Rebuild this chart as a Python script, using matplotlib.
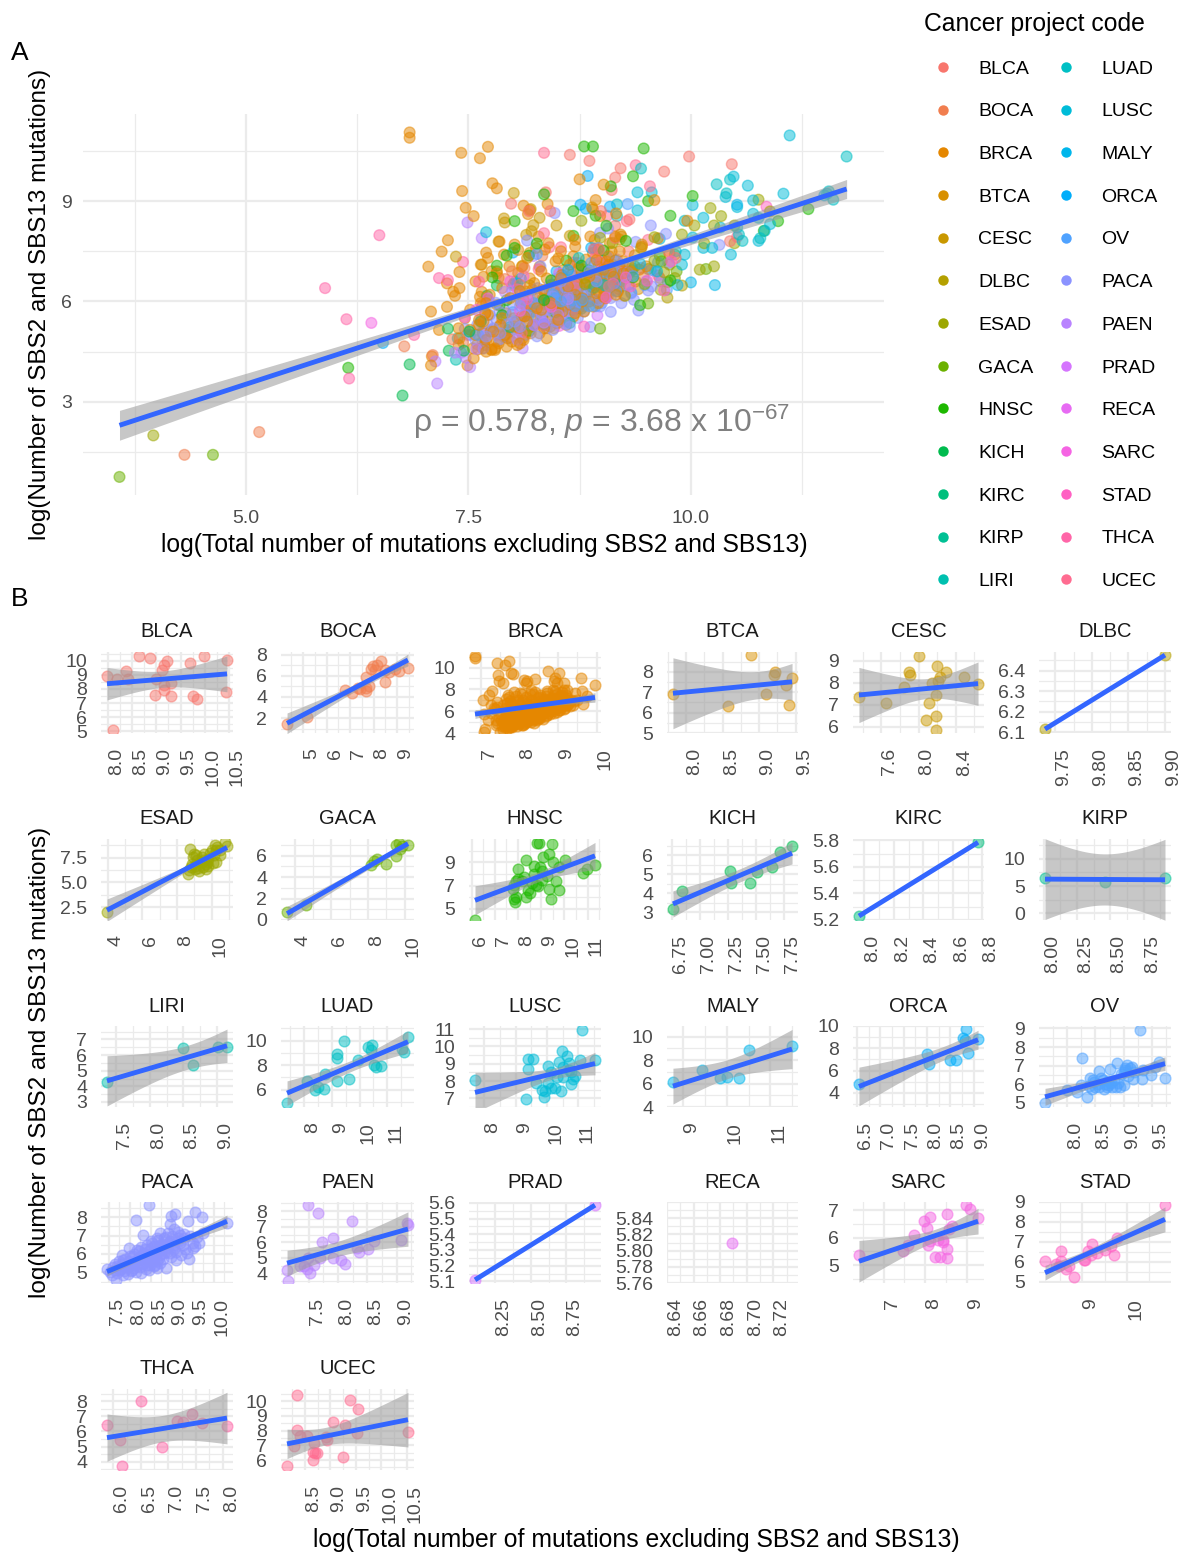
# plot.py - SBS2/SBS13 mutations vs total mutations, all cohorts and per cohort
import numpy as np
import matplotlib
matplotlib.use("Agg")
import matplotlib.pyplot as plt
from matplotlib.lines import Line2D
from matplotlib.ticker import AutoMinorLocator

plt.rcParams["font.family"] = ["Liberation Sans", "DejaVu Sans"]
plt.rcParams["mathtext.fontset"] = "custom"
plt.rcParams["mathtext.rm"] = "Liberation Sans"
plt.rcParams["mathtext.it"] = "Liberation Sans:italic"

# values (log total mutations, log SBS2+SBS13 mutations)
BLCA_x = [7.98, 8.18, 8.37, 8.42, 8.64, 8.86, 8.97, 8.99, 9.11, 9.15, 9.21, 9.15, 9.15, 9.30, 9.31, 9.70, 9.75, 9.83, 9.98, 10.46, 10.44, 8.10]
BLCA_y = [8.92, 8.70, 9.26, 8.70, 10.38, 10.20, 7.55, 8.70, 9.33, 9.70, 9.98, 8.26, 7.90, 7.50, 8.45, 9.88, 7.50, 7.30, 10.33, 10.10, 7.80, 5.05]
BOCA_x = [4.31, 5.15, 6.78, 7.10, 7.32, 7.44, 7.66, 7.66, 7.82, 7.66, 7.91, 7.99, 8.08, 8.13, 8.33, 8.50, 8.50, 8.66, 9.08, 9.47, 8.92]
BOCA_y = [1.42, 2.10, 4.66, 4.40, 4.87, 4.78, 5.90, 4.80, 5.00, 4.60, 6.67, 6.90, 6.50, 7.00, 7.36, 5.40, 6.50, 6.35, 6.45, 6.73, 6.67]
BRCA_x = [6.84, 6.84, 7.42, 7.63, 7.72, 7.43, 7.77, 7.82, 7.47, 7.56, 7.27, 7.20, 7.70, 7.05, 7.40, 7.67, 7.26, 7.40, 7.33, 7.35, 7.65, 7.63, 7.08, 7.26, 7.17,
          7.09, 7.08, 7.49, 7.56, 7.61, 7.39, 7.40, 7.39, 7.52, 7.69, 7.69, 7.46, 7.67, 7.76, 7.84, 7.70, 7.82,
          8.12, 8.19, 8.17, 8.39, 8.75, 9.02, 8.93, 8.90, 8.98, 9.16, 9.59, 9.96, 7.85, 8.06, 8.10, 8.29, 8.40, 8.51, 8.70, 8.87, 8.92, 9.09, 9.22, 9.11, 8.96, 9.45, 9.63, 9.76,
          9.65, 9.28, 9.13, 8.94, 8.72, 8.55, 8.38, 8.19, 8.00, 8.34, 8.51, 8.23, 8.04, 8.12, 7.93, 7.82, 7.70, 7.76, 7.91, 8.15, 8.87, 9.02, 9.02, 9.17, 9.24, 9.32, 8.70, 8.51, 8.42, 8.02, 8.12, 7.85, 7.69, 8.75, 8.57, 8.30, 8.96, 9.05, 8.94, 9.15, 8.70,
          7.60, 7.62, 7.64, 7.66, 7.70, 7.72, 7.74, 7.78, 7.80, 7.82, 7.86, 7.88, 7.90, 7.92, 7.95, 7.97, 7.99, 8.01, 8.03, 8.05, 8.07, 8.09, 8.11, 8.14, 8.16, 8.18, 8.20, 8.22, 8.24, 8.26, 8.28,
          8.30, 8.32, 8.34, 8.36, 8.38, 8.40, 8.42, 8.44, 8.46, 8.48, 8.50, 8.52, 8.54, 8.56, 8.58, 8.60, 8.62, 8.64, 8.66, 8.68, 8.70, 8.72, 8.74, 8.76, 8.78, 8.80, 8.82, 8.84, 8.86, 8.88,
          8.90, 8.92, 8.94, 8.96, 8.98, 9.00, 9.02, 9.04, 9.06, 9.08, 9.10, 9.14, 9.18, 9.20, 9.22, 9.26, 7.55, 7.58, 7.62, 7.68, 7.75, 7.80, 7.88, 7.94, 8.00, 8.08, 8.13, 8.20, 8.27, 8.35, 8.43, 8.50, 8.58, 8.65, 8.73, 8.80,
          7.52, 7.58, 7.64, 7.72, 7.76, 7.84, 7.90, 7.96, 8.02, 8.06, 8.10, 8.16, 8.22, 8.26, 8.32, 8.36, 8.44, 8.48, 8.54, 8.60,
          8.64, 8.68, 8.74, 8.78, 8.82, 8.86, 8.90, 8.96, 9.00, 9.04, 9.08, 9.12, 9.16, 9.20, 9.24, 9.30, 9.34, 9.38, 9.42, 9.50]
BRCA_y = [11.05, 10.89, 10.44, 10.28, 10.62, 9.30, 9.53, 9.38, 8.80, 8.55, 7.83, 7.49, 7.46, 7.04, 6.88, 6.74, 6.54, 6.40, 6.29, 6.17, 6.29, 6.14, 5.70, 5.84, 5.15,
          4.36, 4.09, 4.09, 4.30, 4.57, 4.70, 4.90, 5.20, 5.15, 4.85, 5.65, 5.50, 5.40, 4.55, 4.75, 5.95, 6.84,
          8.86, 8.73, 8.61, 8.91, 9.65, 9.49, 9.03, 8.75, 8.55, 8.63, 9.03, 8.41, 7.79, 7.54, 7.04, 7.94, 7.74, 7.29, 7.64, 7.94, 7.84, 7.74, 7.94, 7.49, 7.54, 7.64, 7.89, 7.42,
          6.70, 6.89, 6.74, 6.74, 6.34, 6.79, 6.69, 6.69, 6.49, 6.09, 5.75, 5.30, 5.40, 4.85, 4.65, 4.80, 4.85, 4.57, 5.00, 5.85, 6.44, 6.14, 6.54, 6.54, 6.84, 6.89, 5.65, 5.45, 5.25, 5.25, 6.05, 5.25, 5.65, 6.44, 6.94, 7.04, 7.04, 7.19, 7.24, 7.94, 7.84,
          4.72, 5.30, 5.95, 5.05, 4.50, 5.60, 6.20, 5.10, 4.60, 5.90, 5.30, 6.40, 4.95, 5.65, 5.15, 6.10, 4.80, 5.50, 6.60, 4.70, 5.20, 5.95, 4.90, 6.30, 5.40, 5.10, 5.85, 5.25, 6.55, 5.55, 6.15,
          5.05, 5.75, 6.35, 5.30, 4.90, 6.00, 5.60, 6.50, 5.20, 5.85, 6.25, 5.40, 6.70, 5.70, 6.10, 5.30, 6.45, 5.90, 6.80, 5.55, 6.20, 6.60, 5.80, 6.95, 6.10, 5.70, 6.50, 6.85, 6.00, 6.35,
          5.85, 6.60, 6.25, 5.95, 6.75, 6.40, 6.95, 6.10, 6.65, 7.10, 6.45, 6.85, 6.30, 7.05, 6.60, 6.70, 4.60, 5.00, 5.45, 4.70, 5.10, 4.55, 5.50, 4.90, 5.15, 4.75, 5.55, 5.05, 5.80, 5.20, 5.95, 5.35, 6.10, 6.60, 6.00, 6.70,
          5.75, 6.60, 7.10, 7.30, 6.90, 6.70, 7.40, 7.05, 7.70, 6.85, 5.55, 7.30, 6.35, 7.60, 6.90, 7.55, 6.30, 7.20, 7.50, 6.05,
          7.10, 7.35, 7.00, 6.00, 7.25, 6.75, 7.45, 6.30, 7.25, 6.90, 7.35, 7.10, 6.20, 7.50, 7.20, 6.50, 7.00, 6.60, 6.95, 7.05]
BTCA_x = [7.82, 8.58, 8.89, 9.10, 9.21, 9.20, 9.37, 9.41, 9.45]
BTCA_y = [6.90, 6.34, 8.81, 6.90, 8.00, 7.85, 7.38, 6.37, 7.70]
CESC_x = [7.36, 7.65, 7.84, 7.90, 7.91, 8.01, 8.11, 8.08, 8.19, 8.19, 8.19, 8.15, 8.20, 8.23, 8.21, 8.30, 8.49, 8.64]
CESC_y = [7.34, 7.10, 7.79, 8.48, 8.36, 9.24, 7.07, 6.31, 6.48, 5.87, 7.45, 7.99, 8.76, 8.28, 8.10, 8.50, 8.27, 7.96]
DLBC_x = [9.736, 9.90]
DLBC_y = [6.116, 6.475]
ESAD_x = [3.96, 8.77, 8.92, 8.65, 9.26, 9.03, 9.59, 10.22, 10.76, 10.89, 10.49, 10.26, 9.82, 9.48, 10.04, 9.82, 9.15, 8.85, 9.37, 9.59, 10.15, 10.49, 8.81, 10.26, 9.70, 9.03,
          8.72, 8.98, 9.20, 9.44, 9.66, 9.90, 10.10, 10.34, 9.12, 9.76]
ESAD_y = [2.00, 8.41, 7.57, 5.90, 6.17, 6.70, 7.92, 8.79, 9.04, 8.69, 7.74, 7.05, 6.70, 6.52, 8.27, 7.40, 7.22, 6.87, 7.05, 7.22, 7.74, 8.27, 6.52, 8.27, 6.87, 6.35,
          6.30, 7.90, 6.45, 7.60, 6.35, 8.00, 6.95, 8.55, 7.75, 7.10]
GACA_x = [3.58, 4.63, 8.18, 8.33, 8.48, 8.98, 9.52, 9.52, 9.67, 9.84, 10.17, 9.74]
GACA_y = [0.76, 1.42, 5.13, 5.52, 5.68, 5.19, 5.94, 6.97, 7.20, 6.90, 6.97, 6.58]
HNSC_x = [6.15, 8.02, 7.93, 7.77, 7.85, 7.88, 7.93, 8.35, 8.27, 8.02, 8.43, 8.35, 8.52, 8.68, 8.77, 8.80, 8.90, 9.47, 9.10, 9.35, 8.93, 9.05, 9.52, 9.43, 9.35, 9.65, 9.77, 10.02, 9.27, 8.85, 8.60, 9.02, 10.82, 10.98, 11.32, 8.18, 7.82, 8.68, 9.77]
HNSC_y = [4.02, 8.40, 7.37, 6.72, 5.89, 5.59, 6.04, 9.20, 7.73, 7.60, 6.63, 6.04, 6.33, 7.96, 7.07, 10.63, 10.63, 10.57, 9.44, 9.74, 8.56, 8.26, 9.00, 5.89, 6.72, 7.37, 6.63, 9.15, 7.81, 6.93, 7.22, 7.52, 8.11, 8.40, 8.76, 7.37, 7.07, 8.70, 8.56]
KICH_x = [6.76, 6.84, 7.27, 7.28, 7.45, 7.51, 7.64, 7.71, 7.82]
KICH_y = [3.19, 4.12, 5.19, 4.53, 4.53, 5.10, 5.40, 6.17, 6.48]
KIRC_x = [7.965, 8.77]
KIRC_y = [5.23, 5.785]
KIRP_x = [8.01, 8.46, 8.91]
KIRP_y = [6.53, 5.69, 6.41]
LIRI_x = [7.36, 8.49, 8.64, 9.02, 9.15]
LIRI_y = [4.26, 6.47, 5.36, 6.49, 6.53]
LUAD_x = [7.38, 8.09, 8.40, 8.49, 8.71, 8.74, 9.17, 9.17, 9.17, 9.44, 9.62, 9.93, 10.29, 10.44, 10.40, 10.54, 10.58, 10.78, 11.55, 11.60, 11.75]
LUAD_y = [4.90, 6.68, 6.00, 6.22, 6.03, 7.30, 6.71, 8.55, 8.90, 9.97, 6.90, 8.41, 9.50, 9.64, 9.23, 8.00, 7.81, 7.89, 9.29, 9.04, 10.33]
LUSC_x = [7.70, 9.34, 9.40, 9.40, 9.56, 9.65, 9.83, 9.90, 9.93, 10.02, 10.14, 10.14, 10.24, 10.45, 10.48, 10.64, 10.39, 10.52, 10.70, 10.76, 10.76, 10.83, 10.89, 11.04, 11.11, 11.53, 10.52, 10.70, 10.02, 10.33]
LUSC_y = [8.07, 6.94, 9.26, 8.72, 9.26, 7.87, 7.50, 7.10, 7.40, 8.88, 8.50, 7.60, 7.60, 7.40, 9.73, 9.46, 9.12, 8.82, 9.02, 8.50, 7.81, 8.11, 8.31, 9.22, 10.96, 9.22, 8.21, 8.62, 7.91, 8.21]
MALY_x = [8.76, 9.43, 9.85, 10.00, 10.27, 10.52, 11.50]
MALY_y = [6.09, 7.13, 6.49, 6.57, 6.49, 8.89, 9.17]
ORCA_x = [6.54, 8.00, 8.05, 8.49, 8.62, 8.76, 8.82, 8.84, 8.88, 9.09]
ORCA_y = [4.76, 7.46, 6.54, 6.90, 6.94, 8.89, 8.77, 9.75, 7.60, 8.83]
OV_x = [7.61, 8.00, 8.18, 8.27, 8.35, 8.41, 8.44, 8.56, 8.57, 8.63, 8.70, 8.76, 8.80, 8.83, 8.88, 8.93, 9.00, 9.00, 9.06, 9.12, 9.16, 9.29, 9.33, 9.35, 9.48, 9.55, 9.63, 9.73, 8.50, 8.73, 8.45, 9.03, 9.19, 8.86, 8.67, 8.24,
        8.39, 8.48, 8.54, 8.60, 8.66, 8.72, 8.78, 8.90, 8.96, 9.02, 9.08, 9.14]
OV_y = [5.00, 5.68, 5.59, 7.42, 5.32, 6.36, 5.77, 6.70, 5.86, 6.22, 5.86, 6.81, 5.86, 6.22, 7.15, 5.86, 5.95, 6.67, 7.03, 6.85, 6.31, 8.91, 6.27, 6.76, 6.49, 6.94, 7.17, 6.35, 5.86, 5.95, 6.22, 6.76, 6.67, 5.86, 6.04, 5.95,
        5.90, 6.10, 6.00, 6.35, 5.75, 6.15, 6.05, 6.05, 6.55, 6.85, 6.45, 6.95]
PACA_x = [7.46, 8.47, 8.16, 8.31, 7.99, 7.64, 7.67, 7.81, 8.98, 9.07, 8.96, 9.38, 9.55, 9.72, 10.32, 9.41, 9.52, 9.56, 9.75, 8.73, 8.64, 8.87, 8.96, 8.87, 8.64, 8.27, 8.08, 7.85, 7.76, 7.94, 8.13, 8.31, 8.45, 8.59, 8.73, 8.41, 8.55, 8.69, 8.82, 9.06, 9.19, 9.29, 9.10, 8.73, 8.22, 8.36, 8.50, 8.08, 7.85, 7.71, 8.18, 8.45, 8.64, 8.78, 8.96, 9.15, 8.22, 7.99, 8.31, 8.55, 9.06, 9.33, 8.82, 8.92, 8.69, 8.45, 8.59, 8.04, 9.06, 9.19,
          7.52, 7.58, 7.60, 7.66, 7.70, 7.74, 7.78, 7.82, 7.86, 7.90, 7.92, 7.96, 8.00, 8.02, 8.06, 8.10, 8.12, 8.14, 8.18, 8.20,
          8.24, 8.26, 8.28, 8.32, 8.34, 8.38, 8.40, 8.42, 8.44, 8.48, 8.50, 8.52, 8.54, 8.56, 8.60, 8.62, 8.66, 8.68, 8.70, 8.72,
          8.76, 8.80, 8.84, 8.86, 8.90, 8.94, 8.98, 9.00, 9.04, 9.10, 9.12, 9.16, 9.22, 9.26, 9.30, 9.36, 9.44, 9.50, 9.60, 9.66]
PACA_y = [5.18, 8.64, 7.82, 7.05, 6.33, 5.45, 4.60, 5.96, 8.05, 8.18, 7.60, 7.78, 8.27, 8.02, 7.69, 5.73, 6.33, 6.45, 7.15, 7.15, 6.87, 6.51, 6.05, 5.24, 5.24, 4.96, 5.24, 4.87, 5.15, 5.33, 5.60, 5.87, 6.15, 6.42, 6.51, 5.42, 5.60, 5.78, 6.05, 6.24, 6.60, 6.87, 5.69, 5.51, 5.69, 6.24, 6.69, 5.87, 5.69, 5.33, 5.33, 5.15, 6.05, 6.24, 6.69, 6.87, 6.15, 5.60, 5.51, 5.96, 6.51, 6.24, 6.87, 7.15, 6.24, 5.69, 5.33, 5.05, 7.33, 7.05,
          5.00, 4.85, 5.30, 5.10, 4.95, 5.60, 5.20, 5.45, 5.05, 5.75, 5.30, 4.90, 5.90, 5.40, 5.15, 6.00, 5.55, 5.00, 6.20, 5.70,
          5.30, 5.90, 6.40, 5.45, 6.05, 5.20, 5.75, 6.50, 5.95, 5.40, 6.30, 5.65, 6.60, 5.85, 5.40, 6.15, 5.60, 6.75, 6.40, 5.95,
          6.55, 5.70, 6.30, 6.90, 6.10, 6.60, 5.85, 7.00, 6.35, 6.10, 6.70, 7.20, 5.95, 6.50, 7.10, 6.05, 7.00, 6.60, 6.90, 6.60]
PAEN_x = [7.13, 7.15, 7.49, 7.65, 8.23, 7.91, 7.73, 7.42, 7.47, 7.52, 7.59, 7.49, 7.69, 7.92, 8.05, 8.11, 8.35, 8.32, 8.51, 8.62, 9.07, 9.17, 9.19, 7.35]
PAEN_y = [4.21, 3.55, 8.36, 7.89, 7.36, 6.29, 6.03, 4.47, 4.32, 4.04, 4.58, 5.00, 5.00, 5.00, 4.86, 4.60, 5.37, 5.65, 5.60, 6.07, 6.18, 7.25, 7.08, 4.47]
PRAD_x = [8.11, 8.95]
PRAD_y = [5.11, 5.585]
RECA_x = [8.689]
RECA_y = [5.81]
SARC_x = [6.41, 7.46, 7.59, 7.72, 7.97, 8.12, 8.05, 8.08, 8.12, 8.24, 8.35, 8.52, 8.52, 8.43, 8.43, 8.52, 8.64, 8.99, 9.07, 9.27, 8.30, 8.57]
SARC_y = [5.36, 5.53, 5.75, 6.09, 6.60, 6.76, 6.36, 5.72, 5.87, 5.29, 5.29, 5.27, 5.59, 5.93, 5.84, 6.84, 6.42, 7.17, 7.02, 6.72, 5.93, 6.30]
STAD_x = [8.16, 8.41, 8.52, 8.52, 8.63, 8.69, 8.80, 9.03, 9.05, 9.13, 9.22, 9.19, 9.32, 9.51, 9.63, 9.70, 9.78, 10.85, 8.47]
STAD_y = [6.07, 5.90, 6.57, 6.03, 5.65, 5.78, 5.25, 6.08, 6.12, 6.53, 6.92, 6.37, 6.45, 6.62, 6.78, 6.33, 7.20, 8.83, 5.78]
THCA_x = [5.89, 6.13, 6.16, 6.50, 6.89, 7.17, 7.27, 7.44, 7.62, 8.07]
THCA_y = [6.40, 5.47, 3.70, 7.98, 5.00, 6.70, 6.64, 7.18, 6.59, 6.34]
UCEC_x = [8.15, 8.29, 8.35, 8.35, 8.41, 8.54, 8.68, 8.66, 8.65, 8.70, 8.74, 8.93, 8.91, 9.06, 9.25, 9.28, 9.38, 9.54, 9.52, 10.52]
UCEC_y = [5.58, 6.96, 10.44, 8.04, 7.62, 7.62, 7.16, 6.04, 6.56, 6.51, 6.49, 7.33, 7.56, 8.56, 6.18, 8.40, 10.07, 9.44, 7.84, 7.93]

codes = ["BLCA", "BOCA", "BRCA", "BTCA", "CESC", "DLBC", "ESAD", "GACA", "HNSC", "KICH", "KIRC", "KIRP", "LIRI",
         "LUAD", "LUSC", "MALY", "ORCA", "OV", "PACA", "PAEN", "PRAD", "RECA", "SARC", "STAD", "THCA", "UCEC"]
colors = ["#F8766D", "#F17E4F", "#E58700", "#D89000", "#C99800", "#B4A000", "#9CA700", "#6BB100", "#1DB800", "#00BB4E", "#00BF7D", "#00C094", "#00C0AF",
          "#00BFC4", "#00BCD8", "#00B6EB", "#00ADFA", "#4FA2FF", "#8B93FF", "#B983FF", "#D575FE", "#E76BF3", "#F564E3", "#FF61C3", "#FF66A8", "#FF6C91"]

xs = [BLCA_x, BOCA_x, BRCA_x, BTCA_x, CESC_x, DLBC_x, ESAD_x, GACA_x, HNSC_x, KICH_x, KIRC_x, KIRP_x, LIRI_x,
      LUAD_x, LUSC_x, MALY_x, ORCA_x, OV_x, PACA_x, PAEN_x, PRAD_x, RECA_x, SARC_x, STAD_x, THCA_x, UCEC_x]
ys = [BLCA_y, BOCA_y, BRCA_y, BTCA_y, CESC_y, DLBC_y, ESAD_y, GACA_y, HNSC_y, KICH_y, KIRC_y, KIRP_y, LIRI_y,
      LUAD_y, LUSC_y, MALY_y, ORCA_y, OV_y, PACA_y, PAEN_y, PRAD_y, RECA_y, SARC_y, STAD_y, THCA_y, UCEC_y]

# tick labels of each small panel
x_labels = [["8.0", "8.5", "9.0", "9.5", "10.0", "10.5"], ["5", "6", "7", "8", "9"], ["7", "8", "9", "10"], ["8.0", "8.5", "9.0", "9.5"],
            ["7.6", "8.0", "8.4"], ["9.75", "9.80", "9.85", "9.90"], ["4", "6", "8", "10"], ["4", "6", "8", "10"], ["6", "7", "8", "9", "10", "11"],
            ["6.75", "7.00", "7.25", "7.50", "7.75"], ["8.0", "8.2", "8.4", "8.6", "8.8"], ["8.00", "8.25", "8.50", "8.75"], ["7.5", "8.0", "8.5", "9.0"],
            ["8", "9", "10", "11"], ["8", "9", "10", "11"], ["9", "10", "11"], ["6.5", "7.0", "7.5", "8.0", "8.5", "9.0"], ["8.0", "8.5", "9.0", "9.5"],
            ["7.5", "8.0", "8.5", "9.0", "9.5", "10.0"], ["7.5", "8.0", "8.5", "9.0"], ["8.25", "8.50", "8.75"], ["8.64", "8.66", "8.68", "8.70", "8.72"],
            ["7", "8", "9"], ["9", "10"], ["6.0", "6.5", "7.0", "7.5", "8.0"], ["8.5", "9.0", "9.5", "10.0", "10.5"]]
y_labels = [["5", "6", "7", "8", "9", "10"], ["2", "4", "6", "8"], ["4", "6", "8", "10"], ["5", "6", "7", "8"], ["6", "7", "8", "9"],
            ["6.1", "6.2", "6.3", "6.4"], ["2.5", "5.0", "7.5"], ["0", "2", "4", "6"], ["5", "7", "9"], ["3", "4", "5", "6"],
            ["5.2", "5.4", "5.6", "5.8"], ["0", "5", "10"], ["3", "4", "5", "6", "7"], ["6", "8", "10"], ["7", "8", "9", "10", "11"],
            ["4", "6", "8", "10"], ["4", "6", "8", "10"], ["5", "6", "7", "8", "9"], ["5", "6", "7", "8"], ["4", "5", "6", "7", "8"],
            ["5.1", "5.2", "5.3", "5.4", "5.5", "5.6"], ["5.76", "5.78", "5.80", "5.82", "5.84"], ["5", "6", "7"], ["5", "6", "7", "8", "9"],
            ["4", "5", "6", "7", "8"], ["6", "7", "8", "9", "10"]]
y_limits = [(4.86, 10.64), (0.58, 8.25), (4.0, 11.43), (5.05, 8.98), (5.72, 9.4), (6.097, 6.49), (1.2, 9.39), (0.06, 7.55), (4.05, 10.99),
            (2.6, 6.86), (5.2, 5.81), (-1.2, 13.6), (2.68, 7.86), (4.58, 11.2), (6.5, 11.18), (4.14, 10.9), (2.72, 9.87), (4.78, 9.13),
            (4.42, 8.82), (3.4, 8.58), (5.09, 5.605), (5.761, 5.86), (4.36, 7.29), (4.95, 8.98), (3.46, 8.8), (5.33, 10.82)]

T_975 = {1: 12.706, 2: 4.303, 3: 3.182, 4: 2.776, 5: 2.571, 6: 2.447, 7: 2.365, 8: 2.306, 9: 2.262, 10: 2.228,
         12: 2.179, 15: 2.131, 20: 2.086, 25: 2.06, 30: 2.042, 40: 2.021, 60: 2.0, 120: 1.98}


def t_crit(df):
    keys = [k for k in T_975 if k >= df]
    return T_975[min(keys)] if keys else 1.96


def add_smooth(ax, x, y):
    # linear fit with 95% band, like geom_smooth(method = "lm")
    x = np.asarray(x)
    y = np.asarray(y)
    if len(x) < 2:
        return
    grid = np.linspace(x.min(), x.max(), 80)
    b, a = np.polyfit(x, y, 1)
    fit = a + b * grid
    if len(x) > 2:
        s = np.sqrt(np.sum((y - a - b * x) ** 2) / (len(x) - 2))
        se = s * np.sqrt(1 / len(x) + (grid - x.mean()) ** 2 / np.sum((x - x.mean()) ** 2))
        hw = t_crit(len(x) - 2) * se
        ax.fill_between(grid, fit - hw, fit + hw, color="#999999", alpha=0.55, lw=0, zorder=4)
    ax.plot(grid, fit, color="#3366FF", lw=3.5, zorder=5, solid_capstyle="butt")


def style_axes(ax):
    for s in ax.spines.values():
        s.set_visible(False)
    ax.set_axisbelow(True)
    ax.xaxis.set_minor_locator(AutoMinorLocator(2))
    ax.yaxis.set_minor_locator(AutoMinorLocator(2))
    ax.grid(True, which="major", color="#EBEBEB", lw=1.6)
    ax.grid(True, which="minor", color="#EBEBEB", lw=0.9)
    ax.tick_params(which="both", length=0)


W, H = 1190, 1556
fig = plt.figure(figsize=(W / 100, H / 100), dpi=100)


def px_axes(left, top, right, bottom):
    return fig.add_axes([left / W, 1 - bottom / H, (right - left) / W, (bottom - top) / H])


# panel A
ax = px_axes(83, 114, 884, 495)
all_x = np.concatenate(xs)
all_y = np.concatenate(ys)
all_c = np.concatenate([[c] * len(x) for c, x in zip(colors, xs)])
order = np.argsort(all_x * 37 % 1)
ax.scatter(all_x[order], all_y[order], s=60, c=all_c[order], alpha=0.5, lw=1.0, edgecolors=all_c[order], zorder=3)
add_smooth(ax, all_x, all_y)
ax.set_xlim(3.17, 12.17)
ax.set_ylim(0.22, 11.6)
ax.set_xticks([5, 7.5, 10], ["5.0", "7.5", "10.0"])
ax.set_yticks([3, 6, 9], ["3", "6", "9"])
style_axes(ax)
ax.tick_params(axis="y", labelsize=14, labelcolor="#4D4D4D", pad=8)
ax.tick_params(axis="x", labelsize=14, labelcolor="#4D4D4D", pad=11)
ax.text(9.0, 2.4, "ρ = 0.578, $\\mathit{p}$ = 3.68 x 10$^{-67}$", fontsize=23, color="#808080", ha="center", va="center", zorder=6)

# panel B
lefts = [101, 281, 469, 667, 853, 1039]
rights = [233, 414, 601, 798, 984, 1171]
tops = [652, 839, 1026, 1202, 1389]
bottoms = [733, 920, 1107, 1283, 1470]
for i, code in enumerate(codes):
    r, c = divmod(i, 6)
    a = px_axes(lefts[c], tops[r], rights[c], bottoms[r])
    x = np.array(xs[i])
    y = np.array(ys[i])
    a.scatter(x, y, s=60, color=colors[i], alpha=0.5, lw=1.0, zorder=3)
    add_smooth(a, x, y)
    if code == "RECA":
        a.set_xlim(8.64, 8.7385)
    else:
        m = 0.05 * (x.max() - x.min())
        a.set_xlim(x.min() - m, x.max() + m)
    a.set_ylim(*y_limits[i])
    a.set_xticks([float(t) for t in x_labels[i]], x_labels[i])
    a.set_yticks([float(t) for t in y_labels[i]], y_labels[i])
    style_axes(a)
    a.tick_params(axis="y", labelsize=14, labelcolor="#4D4D4D", pad=10)
    a.tick_params(axis="x", labelsize=14, labelcolor="#4D4D4D", pad=11)
    for lab in a.get_xticklabels():
        lab.set_rotation(90)
        lab.set_ha("left")
        lab.set_va("top")
    a.text(0.5, 1 + 20 / (bottoms[r] - tops[r]), code, transform=a.transAxes, fontsize=14.5, color="#1A1A1A", ha="center", va="center")

# axis titles and tags
fig.text(484 / W, 1 - 545 / H, "log(Total number of mutations excluding SBS2 and SBS13)", fontsize=17.85, ha="center", va="center")
fig.text(636 / W, 1 - 1540 / H, "log(Total number of mutations excluding SBS2 and SBS13)", fontsize=17.85, ha="center", va="center")
fig.text(40 / W, 1 - 304 / H, "log(Number of SBS2 and SBS13 mutations)", fontsize=17.5, rotation=90, ha="center", va="center")
fig.text(40 / W, 1 - 1062 / H, "log(Number of SBS2 and SBS13 mutations)", fontsize=17.5, rotation=90, ha="center", va="center")
fig.text(20 / W, 1 - 53 / H, "A", fontsize=19, ha="center", va="center")
fig.text(20 / W, 1 - 599 / H, "B", fontsize=19, ha="center", va="center")

# legend
handles = [Line2D([], [], ls="", marker="o", ms=7.5, color=c, mew=0) for c in colors]
leg = fig.legend(handles, codes, ncol=2, loc="upper left", bbox_to_anchor=(916 / W, 1 - 4 / H), title="Cancer project code",
                 fontsize=14, title_fontsize=17.8, frameon=False, alignment="left", labelspacing=1.29,
                 columnspacing=0.68, handletextpad=0.8, borderaxespad=0, borderpad=0.4)
leg._legend_box.sep = 17.5

fig.savefig("out.png", dpi=100)
